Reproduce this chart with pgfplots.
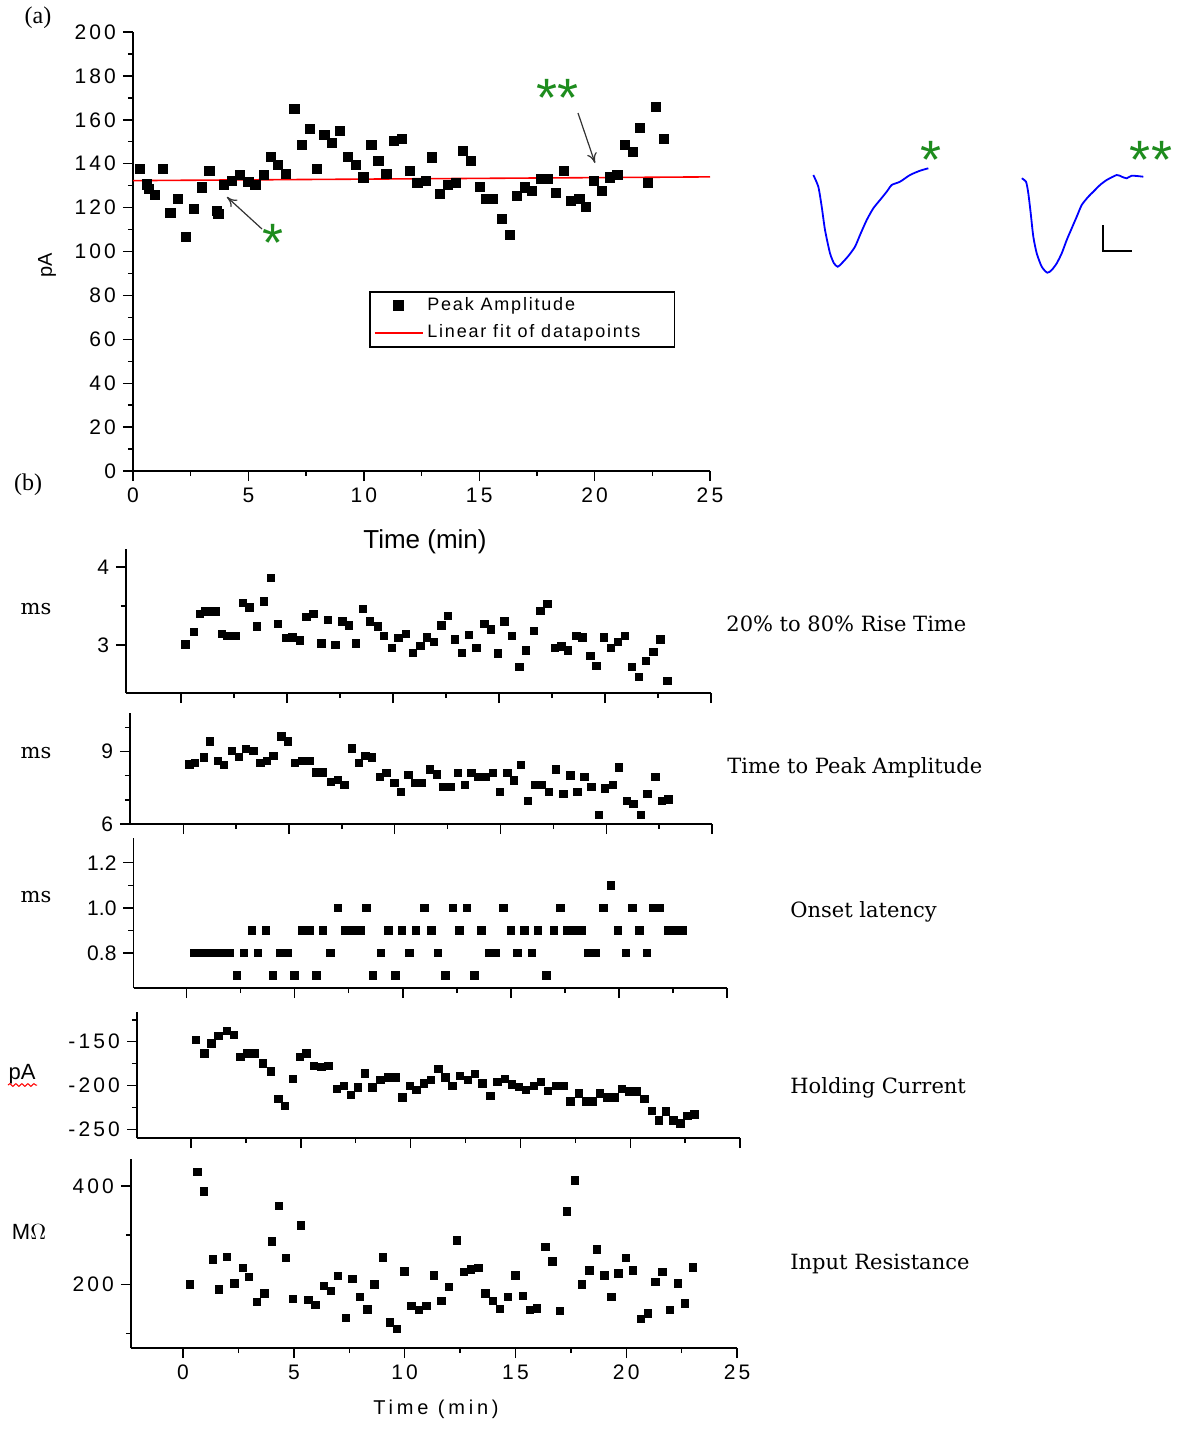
\documentclass[border=0pt]{standalone}
\usepackage{fontspec}
\setmainfont{Liberation Sans}
\newfontfamily\tickfam[LetterSpace=15]{Liberation Sans}
\newfontfamily\legfam[LetterSpace=10]{Liberation Sans}
\newfontfamily\timefam[LetterSpace=19]{Liberation Sans}
\newfontfamily\serfam{DejaVu Serif}
\newfontfamily\labfam{Liberation Serif}
\usepackage{pgfplots}
\pgfplotsset{compat=1.18}
\usetikzlibrary{decorations.pathmorphing, arrows.meta}
\definecolor{stargreen}{HTML}{1E8C1E}
\definecolor{arrowgray}{HTML}{333333}

\pgfplotsset{
  panel/.style={
    scale only axis, anchor=south west,
    axis lines=left, axis line style={-, line width=0.9pt},
    tick align=outside, major tick length=5pt, minor tick length=2.6pt,
    tick style={black, line width=0.7pt},
    tick label style={font=\tickfam\fontsize{10.5}{11}\selectfont},
    /pgf/number format/assume math mode=true,
    clip=false,
  },
  bpanel/.style={panel, xmax=25, xtick={0,5,...,25}, minor x tick num=1,
    xticklabels={}},
  dots/.style={only marks, mark=square*, mark size=1.85pt, black},
  markleg/.style={legend image code/.code={\draw[mark repeat=2,mark phase=2,##1] plot coordinates {(0pt,0pt)(12pt,0pt)(24pt,0pt)};}},
  lineleg/.style={legend image code/.code={\draw[##1] (0pt,0pt) -- (24pt,0pt);}},
}

\begin{document}
\begin{tikzpicture}

% (a) peak amplitude
\begin{axis}[panel, at={(66.5pt,-235.5pt)}, width=288.5pt, height=219.5pt,
  xmin=0, xmax=25, ymin=0, ymax=200,
  xtick={0,5,...,25}, minor x tick num=1,
  ytick={0,20,...,200}, minor y tick num=1,
  legend style={at={(0.409,0.410)}, anchor=north west, draw=black,
    line width=0.8pt, font=\legfam\fontsize{9}{10}\selectfont,
    inner xsep=2pt, inner ysep=1pt, row sep=1.5pt, cells={anchor=west}},
  legend cell align=left]
\addplot[only marks, mark=square*, mark size=2.3pt, black, markleg]
coordinates {(0.30,137.6)(0.61,130.6)(0.70,128.5)(0.96,125.8)(1.29,137.6)(1.62,117.6)(1.95,123.9)(2.28,106.8)(2.65,119.4)(2.98,129.2)(3.31,136.7)(3.62,118.5)(3.70,117.0)(3.94,130.3)(4.30,132.0)(4.64,134.8)(5.00,131.8)(5.30,130.3)(5.66,135.0)(5.96,143.2)(6.29,139.4)(6.64,135.5)(6.99,164.8)(7.33,148.6)(7.65,155.8)(7.98,137.6)(8.29,153.2)(8.63,149.5)(8.97,154.8)(9.32,143.2)(9.67,139.4)(9.98,133.8)(10.33,148.6)(10.63,141.4)(10.98,135.2)(11.32,150.3)(11.66,151.2)(12.00,136.7)(12.32,131.2)(12.68,132.0)(12.96,142.9)(13.31,126.2)(13.66,130.3)(13.99,131.2)(14.30,145.9)(14.65,141.4)(15.02,129.4)(15.31,123.9)(15.61,123.9)(15.99,114.8)(16.34,107.6)(16.62,125.2)(16.99,129.2)(17.30,127.6)(17.67,133.0)(17.98,133.0)(18.34,126.7)(18.68,136.7)(18.96,122.9)(19.34,123.9)(19.64,120.3)(19.98,132.0)(20.33,127.6)(20.66,133.8)(20.99,135.0)(21.32,148.6)(21.66,145.2)(21.97,156.2)(22.32,131.2)(22.65,165.8)(23.01,151.2)};
\addlegendentry{Peak Amplitude}
\addplot[red, line width=0.8pt, lineleg]
coordinates {(0,132.3)(25,134.0)};
\addlegendentry{Linear fit of datapoints\hspace{13pt}\mbox{}}
\end{axis}

% (b1) rise time
\begin{axis}[bpanel, at={(63pt,-346.5pt)}, width=292.5pt, height=72pt,
  xmin=-2.59, ymin=2.385, ymax=4.23, ytick={3,4}, minor y tick num=1]
\addplot[dots] coordinates {(0.22,3.01)(0.60,3.17)(0.90,3.40)(1.12,3.43)(1.40,3.43)(1.64,3.43)(1.92,3.14)(2.20,3.12)(2.57,3.12)(2.91,3.54)(3.23,3.48)(3.58,3.24)(3.92,3.56)(4.23,3.86)(4.57,3.27)(4.94,3.09)(5.26,3.10)(5.62,3.06)(5.91,3.36)(6.25,3.40)(6.62,3.02)(6.92,3.32)(7.28,3.00)(7.61,3.30)(7.93,3.25)(8.25,3.02)(8.58,3.46)(8.90,3.30)(9.29,3.24)(9.57,3.12)(9.94,2.96)(10.26,3.09)(10.60,3.14)(10.95,2.90)(11.29,2.99)(11.60,3.10)(11.94,3.04)(12.28,3.25)(12.59,3.37)(12.91,3.07)(13.25,2.90)(13.58,3.13)(13.94,2.96)(14.31,3.27)(14.63,3.20)(14.96,2.89)(15.26,3.30)(15.62,3.12)(15.97,2.72)(16.27,2.93)(16.64,3.18)(16.96,3.44)(17.28,3.53)(17.63,2.96)(17.95,2.98)(18.26,2.93)(18.66,3.12)(18.94,3.10)(19.31,2.86)(19.59,2.73)(19.96,3.10)(20.28,2.96)(20.62,3.04)(20.93,3.12)(21.27,2.72)(21.60,2.59)(21.92,2.80)(22.29,2.91)(22.61,3.07)(22.95,2.54)};
\end{axis}

% (b2) time to peak
\begin{axis}[bpanel, at={(65pt,-412pt)}, width=291pt, height=55.5pt,
  xmin=-2.52, ymin=6, ymax=10.6, ytick={6,9}, minor ytick={7,8,10}]
\addplot[dots] coordinates {(0.28,8.47)(0.56,8.54)(0.97,8.76)(1.27,9.42)(1.65,8.62)(1.93,8.44)(2.30,9.04)(2.62,8.79)(2.96,9.11)(3.31,9.04)(3.65,8.54)(3.95,8.62)(4.27,8.83)(4.63,9.63)(4.96,9.42)(5.28,8.54)(5.62,8.62)(5.96,8.62)(6.27,8.14)(6.61,8.14)(6.97,7.74)(7.30,7.84)(7.62,7.62)(7.96,9.14)(8.30,8.54)(8.61,8.83)(8.93,8.76)(9.31,7.95)(9.61,8.12)(9.98,7.70)(10.30,7.33)(10.64,8.04)(10.96,7.70)(11.29,7.70)(11.65,8.27)(11.99,8.05)(12.30,7.54)(12.64,7.54)(12.98,8.12)(13.31,7.61)(13.63,8.12)(13.95,7.95)(14.29,7.95)(14.63,8.12)(14.98,7.33)(15.32,8.12)(15.64,7.81)(15.97,8.44)(16.29,6.95)(16.63,7.61)(16.95,7.61)(17.28,7.33)(17.62,8.26)(17.98,7.26)(18.31,8.02)(18.63,7.33)(18.97,7.95)(19.29,7.54)(19.66,6.39)(19.94,7.47)(20.32,7.61)(20.60,8.34)(20.97,6.95)(21.29,6.84)(21.63,6.39)(21.95,7.26)(22.32,7.95)(22.62,6.95)(22.94,7.02)};
\end{axis}

% (b3) onset latency
\begin{axis}[bpanel, at={(66.75pt,-494pt)}, width=296.75pt, height=75pt,
  xmin=-2.46, ymin=0.644, ymax=1.31, ytick={0.8,1.0,1.2}, minor y tick num=1,
  yticklabels={0.8,1.0,1.2},
  yticklabel style={font=\fontsize{10.5}{11}\selectfont}]
\addplot[dots] coordinates {(0.36,0.8)(0.68,0.8)(1.00,0.8)(1.34,0.8)(1.66,0.8)(1.98,0.8)(2.64,0.8)(3.30,0.8)(4.34,0.8)(4.68,0.8)(6.65,0.8)(9.00,0.8)(10.31,0.8)(11.63,0.8)(13.97,0.8)(14.31,0.8)(15.31,0.8)(15.96,0.8)(18.58,0.8)(18.92,0.8)(20.32,0.8)(21.28,0.8)
(3.02,0.9)(3.66,0.9)(5.36,0.9)(5.70,0.9)(6.31,0.9)(7.31,0.9)(7.67,0.9)(8.03,0.9)(9.33,0.9)(9.97,0.9)(10.61,0.9)(11.33,0.9)(12.61,0.9)(13.63,0.9)(14.99,0.9)(15.63,0.9)(16.26,0.9)(16.98,0.9)(17.60,0.9)(17.94,0.9)(18.30,0.9)(19.94,0.9)(20.94,0.9)(22.28,0.9)(22.62,0.9)(22.94,0.9)
(7.00,1.0)(8.31,1.0)(10.99,1.0)(12.31,1.0)(12.97,1.0)(14.65,1.0)(17.30,1.0)(19.28,1.0)(20.62,1.0)(21.56,1.0)(21.90,1.0)
(19.62,1.1)
(2.32,0.7)(4.00,0.7)(4.98,0.7)(6.00,0.7)(8.63,0.7)(9.65,0.7)(11.97,0.7)(13.31,0.7)(16.64,0.7)};
\end{axis}

% (b4) holding current
\begin{axis}[bpanel, at={(68.5pt,-569pt)}, width=301.5pt, height=63pt,
  xmin=-2.46, ymin=-260, ymax=-116, ytick={-250,-200,-150},
  yticklabels={-250,-200,-150}, minor ytick={-225,-175,-125}]
\addplot[dots] coordinates {(0.22,-147.7)(0.61,-163.4)(0.93,-151.9)(1.24,-143.1)(1.63,-137.4)(1.96,-142.4)(2.24,-167.2)(2.57,-163.4)(2.89,-163.4)(3.26,-174.8)(3.63,-184.0)(3.98,-215.6)(4.28,-223.3)(4.63,-192.7)(4.96,-167.2)(5.26,-163.4)(5.59,-177.5)(5.93,-178.6)(6.26,-177.5)(6.63,-204.2)(6.96,-200.4)(7.28,-210.7)(7.61,-202.3)(7.93,-186.3)(8.26,-202.3)(8.63,-193.9)(8.96,-190.8)(9.30,-190.8)(9.63,-213.7)(9.96,-200.4)(10.26,-205.3)(10.61,-197.7)(10.93,-193.9)(11.26,-181.3)(11.59,-190.8)(11.91,-200.4)(12.24,-188.9)(12.61,-193.9)(12.93,-187.0)(13.26,-197.7)(13.63,-211.8)(13.96,-195.8)(14.28,-192.7)(14.61,-198.5)(14.93,-201.5)(15.26,-205.3)(15.61,-200.4)(15.93,-195.8)(16.26,-206.1)(16.63,-200.4)(16.96,-200.4)(17.28,-218.3)(17.65,-209.2)(17.98,-218.3)(18.30,-218.3)(18.63,-209.2)(18.96,-213.7)(19.30,-213.7)(19.63,-204.2)(19.96,-206.9)(20.28,-206.9)(20.65,-215.6)(20.98,-229.0)(21.30,-239.7)(21.63,-229.8)(21.96,-239.7)(22.28,-243.5)(22.61,-234.7)(22.93,-232.8)};
\end{axis}

% (b5) input resistance
\begin{axis}[bpanel, at={(65.5pt,-674pt)}, width=303pt, height=94.5pt,
  xmin=-2.35, ymin=70, ymax=455, ytick={200,400}, minor ytick={100,300},
  xticklabels={0,5,10,15,20,25}]
\addplot[dots] coordinates {(0.32,200)(0.65,428.5)(0.95,389.2)(1.34,250.9)(1.62,189.8)(1.99,255.6)(2.31,201.4)(2.70,233.2)(2.96,214.9)(3.33,164.1)(3.67,181)(4.00,287.5)(4.32,359.3)(4.64,253.6)(4.97,169.5)(5.33,320)(5.66,167.5)(5.98,157.3)(6.35,196.6)(6.67,185.8)(7.00,216.3)(7.34,131.5)(7.65,210.2)(7.99,174.2)(8.32,148.5)(8.64,200)(9.01,254.2)(9.33,122)(9.65,108.5)(9.98,226.4)(10.30,155.9)(10.63,147.1)(10.99,155.9)(11.32,218.3)(11.66,165.4)(11.99,194.6)(12.35,289.5)(12.68,225.1)(13.00,230.5)(13.33,233.2)(13.65,181)(13.97,165.4)(14.30,149.2)(14.67,174.2)(14.99,218.3)(15.33,175.6)(15.66,147.1)(15.98,150.5)(16.35,275.9)(16.67,246.8)(17.02,145.1)(17.32,348.5)(17.69,411.5)(18.01,200)(18.34,228.5)(18.68,271.2)(19.01,218.3)(19.33,174.2)(19.65,221.7)(19.98,253.6)(20.30,228.5)(20.67,128.8)(20.99,140.3)(21.32,204.7)(21.64,225.1)(21.97,147.1)(22.33,201.4)(22.66,160.7)(23.00,233.9)};
\end{axis}

% inset traces and scale bar, in picture pixels
\begin{axis}[at={(0pt,-717.5pt)}, anchor=south west, scale only axis,
  width=590.5pt, height=717.5pt, xmin=0, xmax=1181, ymin=0, ymax=1435,
  y dir=reverse, hide axis, clip=false]
\addplot[blue, line width=0.9pt, smooth, tension=0.4] coordinates {(813.3,175)(818.3,186.7)(821.7,206.7)(825,230)(830,253.3)(834,263.3)(837.7,266.7)(841.7,263.3)(848.3,256)(855,246.7)(860,235)(866.7,220)(873.3,208.3)(880,200)(886.7,191.7)(891.7,185)(900,181.7)(910,175)(920,170.7)(928.3,168.3)};
\addplot[blue, line width=0.9pt, smooth, tension=0.4] coordinates {(1021.7,178.3)(1026,181.7)(1028.3,193.3)(1030.7,213.3)(1033.3,236.7)(1036.7,253.3)(1041.7,266.7)(1047.3,272.7)(1051.7,270)(1056.7,263.3)(1061.7,253.3)(1066.7,240)(1071.7,228.3)(1076.7,216.7)(1081.7,205)(1088.3,196.7)(1093.3,191.7)(1100,185)(1106.7,180)(1116.7,175)(1121.7,176.7)(1126.7,178.3)(1131.7,175.7)(1143.3,176.7)};
\addplot[black, line width=0.9pt] coordinates {(1103.3,225)(1103.3,250.7)(1132.3,250.7)};
\end{axis}

\begin{scope}[x=0.5pt, y=-0.5pt]
\path (0,0) rectangle (1181,1435);
\node[font=\labfam\fontsize{12}{12}\selectfont] at (38,18) {(a)};
\node[font=\labfam\fontsize{12}{12}\selectfont] at (28,485) {(b)};
\node[rotate=90, font=\fontsize{10}{10}\selectfont] at (47,265) {pA};
\node[font=\fontsize{13}{13}\selectfont] at (425,542) {Time (min)};
\node[font=\timefam\fontsize{10}{10}\selectfont] at (436,1409) {Time (min)};
% asterisks and arrows
\begin{scope}[stargreen, font=\fontsize{27}{27}\selectfont]
\node[anchor=base, inner sep=0pt] at (273,261) {*};
\node[anchor=base, inner sep=0pt] at (558,116) {**};
\node[anchor=base, inner sep=0pt] at (931,178) {*};
\node[anchor=base, inner sep=0pt] at (1151,178) {**};
\end{scope}
\draw[arrowgray, line width=0.6pt, -{To[length=5pt, width=5pt]}] (262,229) -- (227,197);
\draw[arrowgray, line width=0.6pt, -{To[length=5pt, width=5pt]}] (578,113) -- (595,163);
% panel (b) labels
\begin{scope}[font=\serfam\fontsize{10.5}{11}\selectfont]
\node at (36,609) {ms};
\node at (36,753) {ms};
\node at (36,897) {ms};
\node[anchor=west, inner xsep=0pt] at (726,624) {20\% to 80\% Rise Time};
\node[anchor=west, inner xsep=0pt] at (727,768) {Time to Peak Amplitude};
\node[anchor=west, inner xsep=0pt] at (790,912) {Onset latency};
\node[anchor=west, inner xsep=0pt] at (790,1088) {Holding Current};
\node[anchor=west, inner xsep=0pt] at (790,1264) {Input Resistance};
\end{scope}
\node[font=\fontsize{11}{11}\selectfont] at (22,1074) {pA};
\draw[red, line width=0.5pt, decorate, decoration={snake, amplitude=0.7pt, segment length=3pt}] (8,1085) -- (37,1085);
\node[font=\fontsize{11}{11}\selectfont] at (29,1232) {M$\Omega$};
\end{scope}
\end{tikzpicture}
\end{document}
